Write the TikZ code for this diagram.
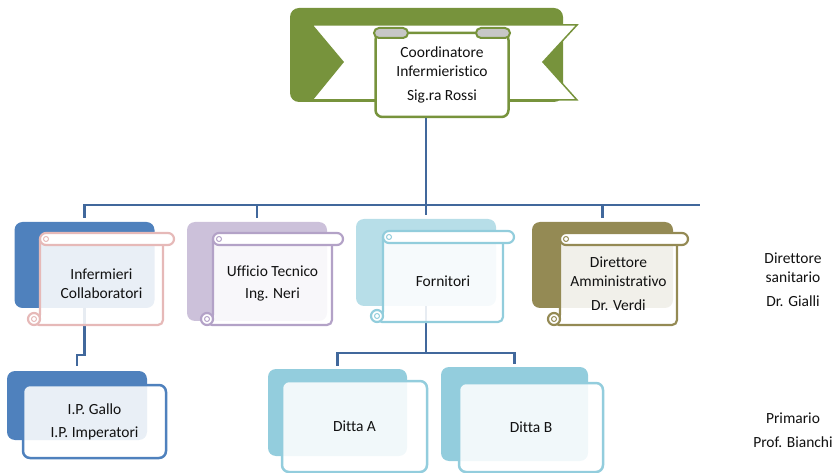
\documentclass[tikz,border=0pt]{standalone}
\usepackage{fontspec}
\setmainfont{Carlito}[Ligatures=NoCommon]
\usetikzlibrary{backgrounds}

\definecolor{linkblue}{HTML}{41689C}
\definecolor{leafgreen}{HTML}{77933C}
\definecolor{nurseblue}{HTML}{4F81BD}
\definecolor{nursepink}{HTML}{E6B9B8}
\definecolor{techlilac}{HTML}{CCC1DA}
\definecolor{techborder}{HTML}{B3A2C7}
\definecolor{supplyblue}{HTML}{B7DEE8}
\definecolor{supplyborder}{HTML}{92CDDC}
\definecolor{adminolive}{HTML}{948A54}
\definecolor{firmblue}{HTML}{93CDDD}
\definecolor{inktext}{HTML}{111111}

\tikzset{
  link/.style={draw=linkblue, line width=2.8pt},
  backbox/.style={rounded corners=8pt, inner sep=0pt},
  frontbox/.style={draw, line width=2.5pt, rounded corners=7pt, fill=white,
    fill opacity=.88, text opacity=1, inner sep=0pt, text=inktext,
    font=\fontsize{15.5}{19}\selectfont, align=center},
  chartext/.style={text=inktext, font=\fontsize{15.5}{19}\selectfont, align=center},
}

% scroll: name, left, top, right, bottom, colour, text
\newcommand{\ScrollBox}[7]{%
  \filldraw[#6, line width=2.2pt, fill=white, fill opacity=.88, rounded corners=5pt]
    ({#2},{#3+6}) -- ({#2},{#5-6}) -- ({#2-6},{#5}) -- ({#4},{#5}) -- ({#4},{#3+6});
  \filldraw[#6, line width=2.2pt, fill=white] ({#2-6},{#5-6}) circle[radius=6pt];
  \draw[#6, line width=1pt] ({#2-6},{#5-6}) circle[radius=2.5pt];
  \filldraw[#6, line width=2.2pt, fill=white, rounded corners=6pt]
    ({#2},{#3}) rectangle ({#4+11},{#3+12});
  \draw[#6, line width=1pt] ({#2+6},{#3+6}) circle[radius=2.5pt];
  \node[chartext] (#1) at ({(#2+#4)/2},{(#3+#5)/2+5}) {#7};
}

\begin{document}
\begin{tikzpicture}[x=1pt, y=-1pt]
\useasboundingbox (0,0) rectangle (836,473);
%%%%%%%%%%%%%%%%%%%%%%%%%%%%%% top
\fill[leafgreen, rounded corners=9pt] (290,8) rectangle (563,102);
\filldraw[fill=white, draw=leafgreen, line width=1.5pt]
  (312,25) -- (343,62) -- (312,100) -- (577,100) -- (543,62) -- (577,25) -- cycle;
\node[draw=leafgreen, line width=2.5pt, fill=white, rounded corners=7pt,
  minimum width=133pt, minimum height=84pt, chartext] (coord) at (442,75)
  {Coordinatore\\Infermieristico\\[5pt]Sig.ra Rossi};
\filldraw[fill=black!22, draw=leafgreen, line width=2pt, rounded corners=5pt] (374,28) rectangle (408,38);
\filldraw[fill=black!22, draw=leafgreen, line width=2pt, rounded corners=5pt] (476,28) rectangle (510,38);
%%%%%%%%%%%%%%%%%%%%%%%%%%%%%% second row
\node[backbox, fill=nurseblue, minimum width=140pt, minimum height=86pt] (infB) at (84.5,265) {};
\node[backbox, fill=techlilac, minimum width=140pt, minimum height=99pt] (uffB) at (257,271.5) {};
\node[backbox, fill=supplyblue, minimum width=140pt, minimum height=87pt] (forB) at (426,262.5) {};
\node[backbox, fill=adminolive, minimum width=141pt, minimum height=86pt] (dirB) at (602.5,265) {};
\ScrollBox{inf}{40}{233}{163}{325}{nursepink}{Infermieri\\Collaboratori}
\ScrollBox{uff}{213}{233}{332}{325}{techborder}{Ufficio Tecnico\\[3pt]Ing. Neri}
\ScrollBox{for}{383}{231}{503}{322}{supplyborder}{Fornitori}
\ScrollBox{dir}{560}{233}{677}{325}{adminolive}{Direttore\\Amministrativo\\[5pt]Dr. Verdi}
\node[chartext] (san) at (793,280) {Direttore\\sanitario\\[5pt]Dr. Gialli};
%%%%%%%%%%%%%%%%%%%%%%%%%%%%%% third row
\node[backbox, fill=nurseblue, minimum width=140pt, minimum height=69pt] (ipB) at (77,405.5) {};
\node[frontbox, draw=nurseblue, minimum width=143pt, minimum height=73pt] (ip) at (94.5,421.5)
  {I.P. Gallo\\[4pt]I.P. Imperatori};
\node[backbox, fill=firmblue, minimum width=139pt, minimum height=87pt] (dAB) at (337.5,412.5) {};
\node[frontbox, draw=firmblue, minimum width=145pt, minimum height=91pt] (dA) at (354.5,426.5) {Ditta A};
\node[backbox, fill=firmblue, minimum width=147pt, minimum height=94pt] (dBB) at (514.5,414) {};
\node[frontbox, draw=firmblue, minimum width=144pt, minimum height=89pt] (dB) at (531,427.5) {Ditta B};
\node[chartext] (pri) at (793,430) {Primario\\[5pt]Prof. Bianchi};
%%%%%%%%%%%%%%%%%%%%%%%%%%%%%% connectors
\coordinate (bus) at (426,205);
\coordinate (busend) at (700,205);
\coordinate (ipjog) at (80,355);
\coordinate (dbus) at (426,353);
\begin{pgfonlayer}{background}
\draw[link] (bus |- coord.south) -- ([yshift=4pt]forB.north);
\draw[link] ([yshift=4pt]infB.north) |- (busend);
\draw[link] (uffB.north |- bus) -- ([yshift=4pt]uffB.north);
\draw[link] (dirB.north |- bus) -- ([yshift=4pt]dirB.north);
\draw[link, shorten >=5pt] (infB.south) |- (ipjog) -| (ipB.north);
\draw[link] (forB.south) -- (dbus);
\draw[link] ([yshift=3pt]dAB.north) |- (dbus) -| ([yshift=3pt]dBB.north);
\end{pgfonlayer}
\end{tikzpicture}
\end{document}
